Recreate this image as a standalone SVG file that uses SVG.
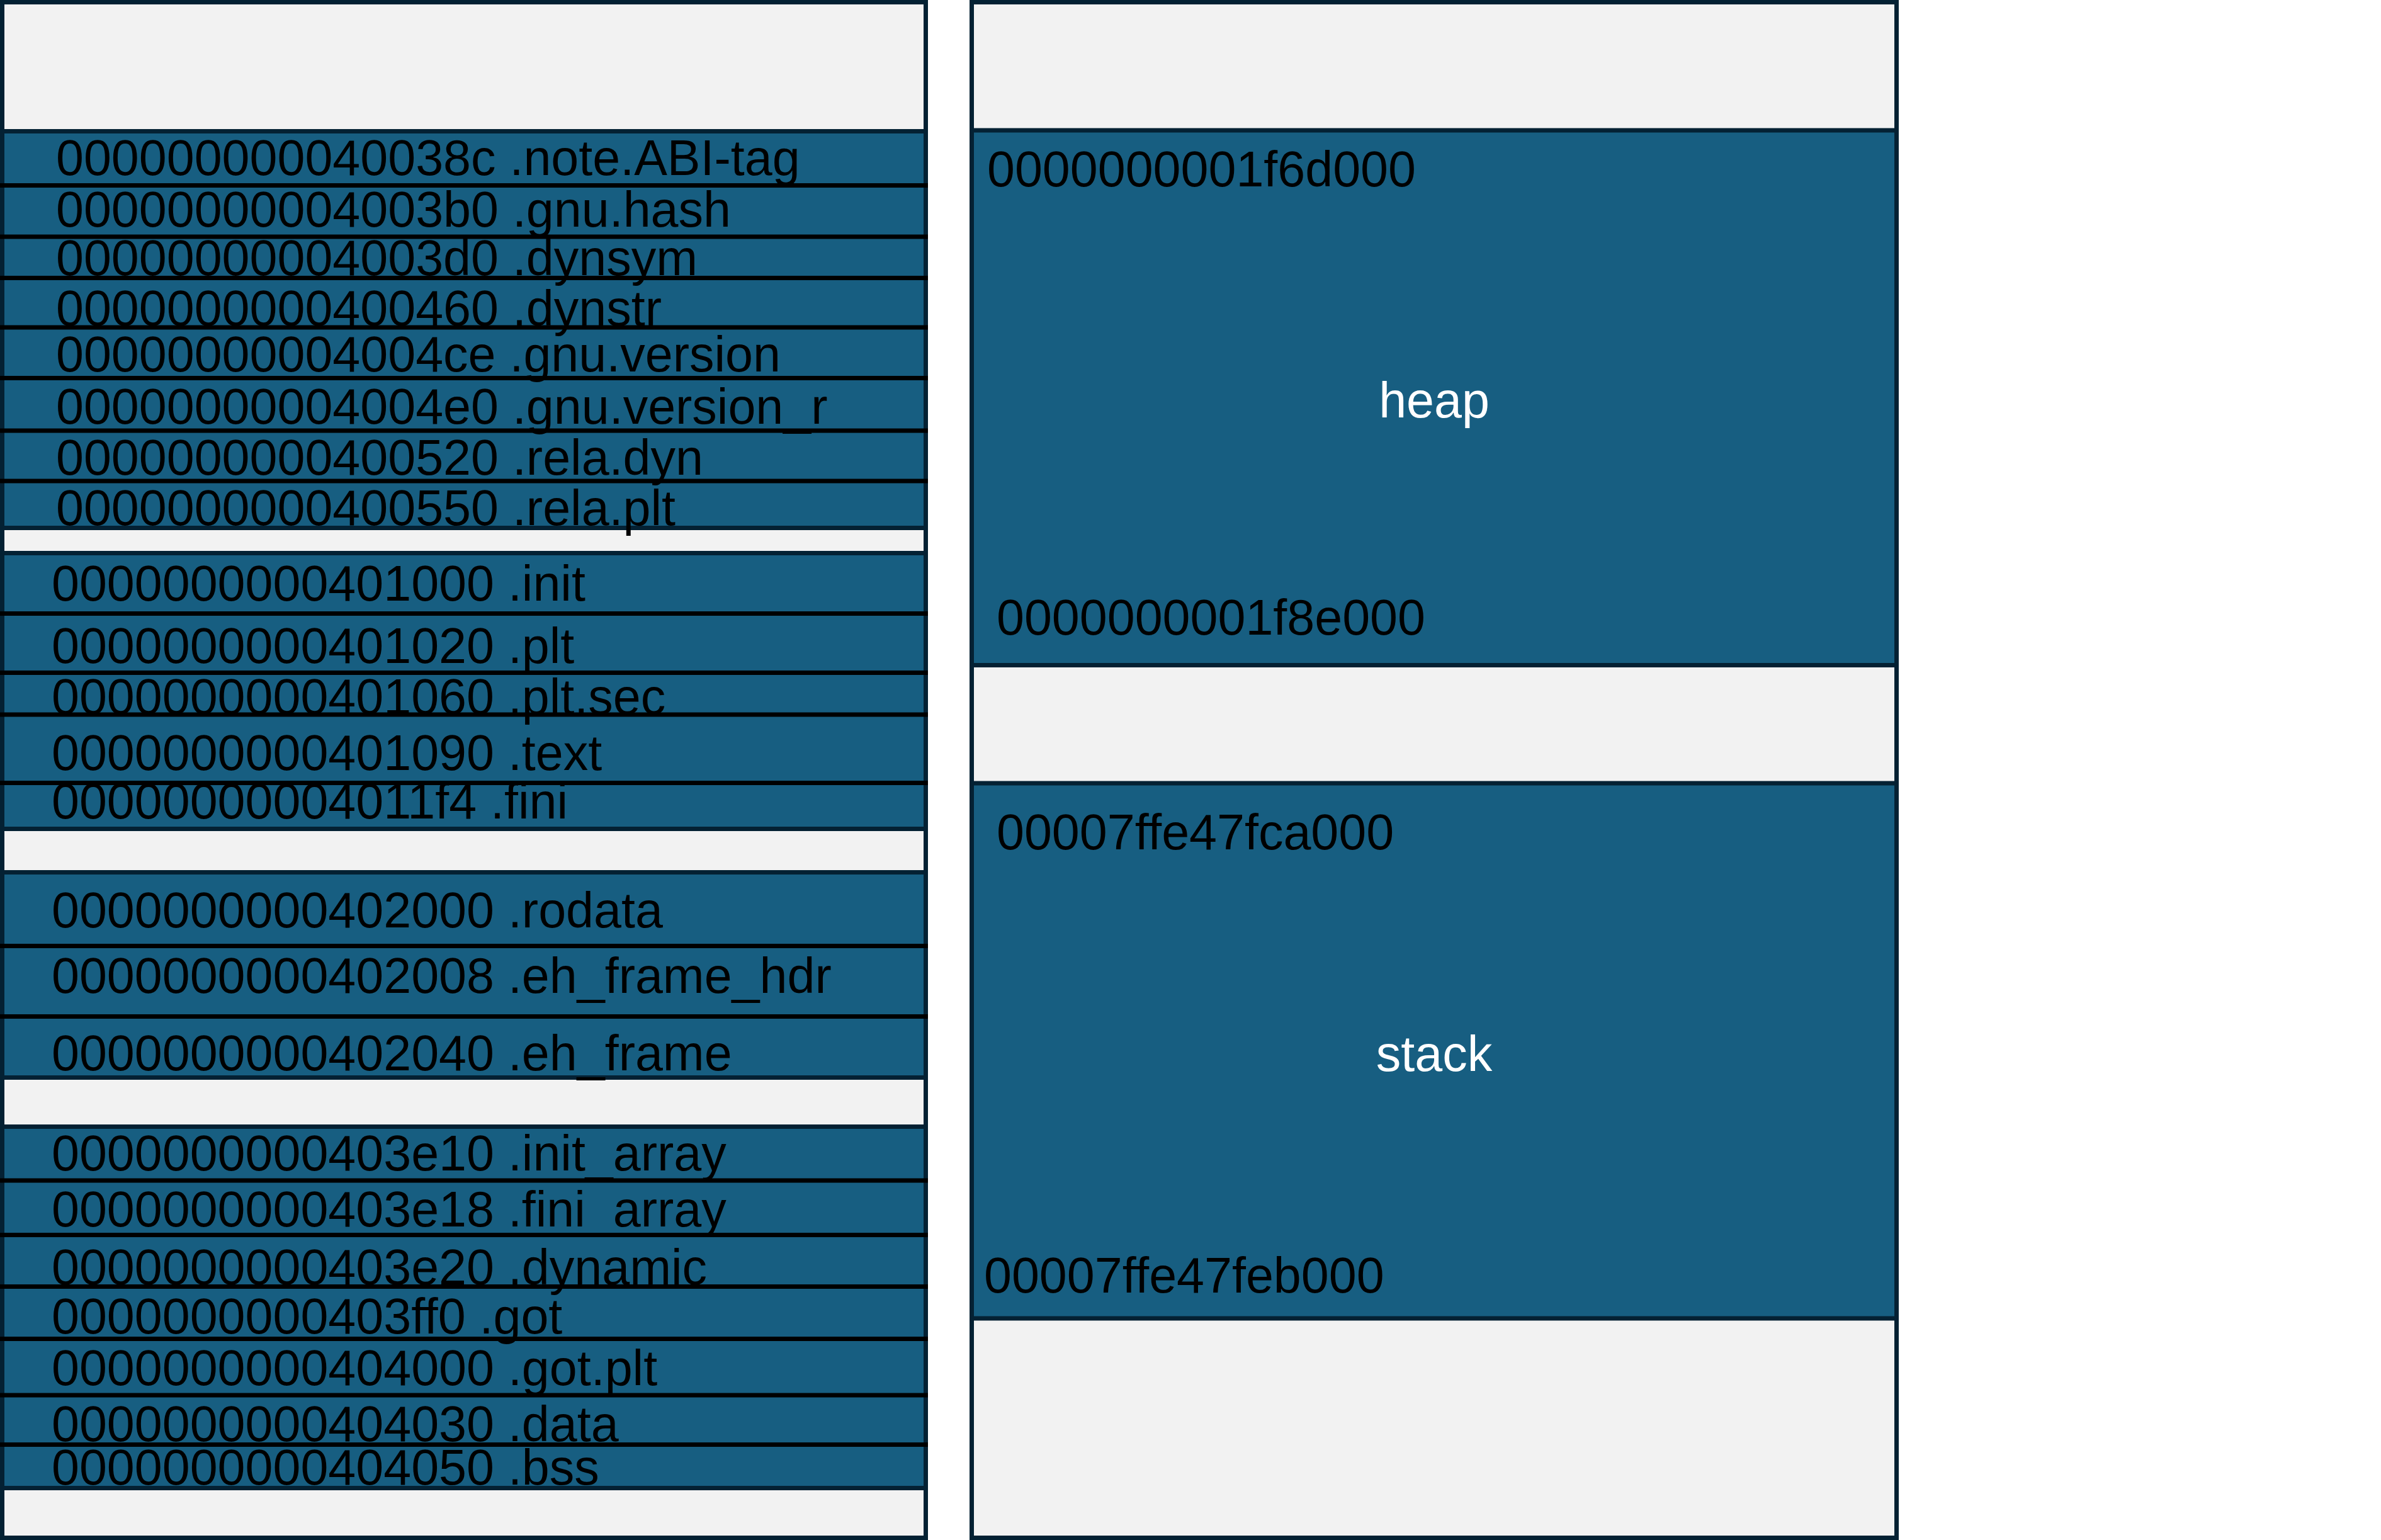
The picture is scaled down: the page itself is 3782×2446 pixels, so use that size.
<svg xmlns="http://www.w3.org/2000/svg" width="3782" height="2446" viewBox="0 0 3782 2446">
<style>
.col{fill:#F2F2F2;stroke:#042133;stroke-width:7}
.blk{fill:#175E81;stroke:#042133;stroke-width:7}
.sep{stroke:#000;stroke-width:7}
.t{font-family:"Liberation Sans",Arial,sans-serif;font-size:79px;fill:#000}
.w{font-family:"Liberation Sans",Arial,sans-serif;font-size:79px;fill:#FFF;text-anchor:middle}
</style>
<rect width="3782" height="2446" fill="#FFFFFF"/>
<g id="left-column">
<rect class="col" x="3.5" y="3.5" width="1467" height="2439"/>
<rect class="blk" x="3.5" y="208.5" width="1467" height="630"/>
<rect class="blk" x="3.5" y="878.5" width="1467" height="438"/>
<rect class="blk" x="3.5" y="1385.5" width="1467" height="326"/>
<rect class="blk" x="3.5" y="1789.5" width="1467" height="574"/>
</g>
<g id="left-labels">
<text class="t" x="89" y="278">000000000040038c .note.ABI-tag</text>
<text class="t" x="89" y="360">00000000004003b0 .gnu.hash</text>
<text class="t" x="89" y="437">00000000004003d0 .dynsym</text>
<text class="t" x="89" y="517">0000000000400460 .dynstr</text>
<text class="t" x="89" y="590">00000000004004ce .gnu.version</text>
<text class="t" x="89" y="673">00000000004004e0 .gnu.version_r</text>
<text class="t" x="89" y="754">0000000000400520 .rela.dyn</text>
<text class="t" x="89" y="834">0000000000400550 .rela.plt</text>
<text class="t" x="82" y="954">0000000000401000 .init</text>
<text class="t" x="82" y="1053">0000000000401020 .plt</text>
<text class="t" x="82" y="1134">0000000000401060 .plt.sec</text>
<text class="t" x="82" y="1223">0000000000401090 .text</text>
<text class="t" x="82" y="1300">00000000004011f4 .fini</text>
<text class="t" x="82" y="1473">0000000000402000 .rodata</text>
<text class="t" x="82" y="1577">0000000000402008 .eh_frame_hdr</text>
<text class="t" x="82" y="1700">0000000000402040 .eh_frame</text>
<text class="t" x="82" y="1859">0000000000403e10 .init_array</text>
<text class="t" x="82" y="1948">0000000000403e18 .fini_array</text>
<text class="t" x="82" y="2040">0000000000403e20 .dynamic</text>
<text class="t" x="82" y="2118">0000000000403ff0 .got</text>
<text class="t" x="82" y="2200">0000000000404000 .got.plt</text>
<text class="t" x="82" y="2289">0000000000404030 .data</text>
<text class="t" x="82" y="2358">0000000000404050 .bss</text>
</g>
<g id="connectors">
<line class="sep" x1="0" y1="294.5" x2="1474" y2="294.5"/>
<line class="sep" x1="0" y1="376" x2="1474" y2="376"/>
<line class="sep" x1="0" y1="441.5" x2="1474" y2="441.5"/>
<line class="sep" x1="0" y1="520" x2="1474" y2="520"/>
<line class="sep" x1="0" y1="600.5" x2="1474" y2="600.5"/>
<line class="sep" x1="0" y1="684" x2="1474" y2="684"/>
<line class="sep" x1="0" y1="764" x2="1474" y2="764"/>
<line class="sep" x1="0" y1="974.5" x2="1474" y2="974.5"/>
<line class="sep" x1="0" y1="1068.5" x2="1474" y2="1068.5"/>
<line class="sep" x1="0" y1="1135" x2="1474" y2="1135"/>
<line class="sep" x1="0" y1="1243.5" x2="1474" y2="1243.5"/>
<line class="sep" x1="0" y1="1502.5" x2="1474" y2="1502.5"/>
<line class="sep" x1="0" y1="1614.5" x2="1474" y2="1614.5"/>
<line class="sep" x1="0" y1="1875" x2="1474" y2="1875"/>
<line class="sep" x1="0" y1="1961.5" x2="1474" y2="1961.5"/>
<line class="sep" x1="0" y1="2043.5" x2="1474" y2="2043.5"/>
<line class="sep" x1="0" y1="2126.5" x2="1474" y2="2126.5"/>
<line class="sep" x1="0" y1="2216" x2="1474" y2="2216"/>
<line class="sep" x1="0" y1="2294.5" x2="1474" y2="2294.5"/>
</g>
<g id="right-column">
<rect class="col" x="1543.5" y="3.5" width="1469" height="2439"/>
</g>
<g id="heap">
<rect class="blk" x="1543.5" y="207" width="1469" height="849.5"/>
<text class="t" x="1568" y="296">0000000001f6d000</text>
<text class="w" x="2278" y="663">heap</text>
<text class="t" x="1583" y="1008">0000000001f8e000</text>
</g>
<g id="stack">
<rect class="blk" x="1543.5" y="1244" width="1469" height="850"/>
<text class="t" x="1583" y="1349">00007ffe47fca000</text>
<text class="w" x="2278" y="1701">stack</text>
<text class="t" x="1563" y="2053">00007ffe47feb000</text>
</g>
</svg>
